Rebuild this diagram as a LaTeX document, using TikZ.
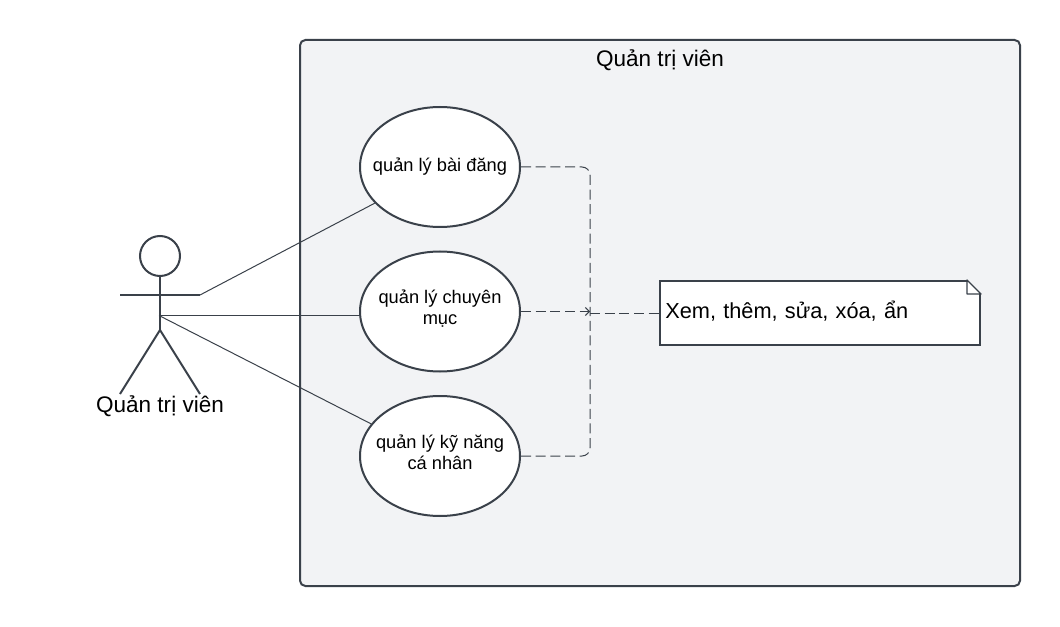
\documentclass[tikz,border=0pt]{standalone}
\usepackage{fontspec}
\setmainfont{Liberation Sans}
\usetikzlibrary{shapes.geometric,arrows.meta}
\definecolor{edgegray}{HTML}{3A414A}
\definecolor{panelgray}{HTML}{F2F3F5}

\begin{document}
\begin{tikzpicture}[x=0.75pt,y=-0.75pt,
    panel/.style = {draw=edgegray, fill=panelgray, line width=1.5pt, rounded corners=4pt},
    usecase/.style = {draw=edgegray, fill=white, ellipse, line width=1.5pt, minimum width=120pt, minimum height=90pt, inner xsep=-10pt, inner ysep=0pt, align=center, font=\fontsize{13.7}{16}\selectfont},
    notebox/.style = {draw=edgegray, fill=white, line width=1.5pt, minimum width=240pt, minimum height=48pt, inner sep=4pt, text width=232pt, align=left, font=\fontsize{16.3}{20}\selectfont},
    title/.style = {font=\fontsize{16.9}{20}\selectfont},
    stick/.style = {draw=edgegray, line width=1.5pt},
    solid link/.style = {draw=edgegray, line width=0.75pt},
    dash link/.style = {draw=edgegray, line width=0.75pt, dash pattern=on 7.5pt off 3.5pt}]
    \useasboundingbox (0,0) rectangle (1060,627);

    \draw[panel] (300,40) rectangle (1020,586);
    \node at (660,60) [title] (frametitle) {Quản trị viên};

    % actor
    \node at (160,256) [stick,circle,minimum size=30pt,inner sep=0pt] (head) {};
    \coordinate (hip) at (160,330);
    \coordinate (waist) at (159,315.5);
    \coordinate (lefthand) at (120,295);
    \coordinate (righthand) at (200,295);
    \coordinate (leftfoot) at (120,394);
    \coordinate (rightfoot) at (200,394);
    \draw[stick] (head) -- (hip);
    \draw[stick] (lefthand) -- (righthand);
    \draw[stick] (leftfoot) -- (hip) -- (rightfoot);
    \node at (160,406) [title] (actorname) {Quản trị viên};

    % use cases
    \node at (440,167) [usecase] (post) {quản lý bài đăng};
    \node at (440,311.5) [usecase] (topic) {quản lý chuyên\\mục\rule[-6pt]{0pt}{6pt}};
    \node at (440,456) [usecase] (skill) {quản lý kỹ năng\\cá nhân\rule[-6pt]{0pt}{6pt}};

    % note
    \node at (820,313) [notebox] (note) {Xem, thêm, sửa, xóa, ẩn\rule[-5pt]{0pt}{5pt}};
    \fill[panelgray] ([xshift=-10.5pt]note.north east) -- ([xshift=1pt,yshift=1pt]note.north east) -- ([yshift=-10.5pt]note.north east) -- cycle;
    \draw[edgegray,fill=white,line width=1pt,line join=round] ([xshift=-10.5pt]note.north east) -- ([xshift=-10.5pt,yshift=-10.5pt]note.north east) -- ([yshift=-10.5pt]note.north east) -- cycle;

    % links
    \coordinate (hub) at (590,313.5);
    \draw[solid link] (righthand) -- (post.209);
    \draw[solid link] (waist) -- (topic.west |- waist);
    \draw[solid link] (waist) -- (skill.155);
    \draw[dash link,rounded corners=6pt] (post.east) -| (hub);
    \draw[dash link,rounded corners=6pt] (skill.east) -| (hub);
    \draw[dash link,-{Straight Barb[length=3pt,width=6pt]}] (topic.east) -- (topic.east -| hub);
    \draw[dash link] (hub) -- (note.west |- hub);
\end{tikzpicture}
\end{document}
